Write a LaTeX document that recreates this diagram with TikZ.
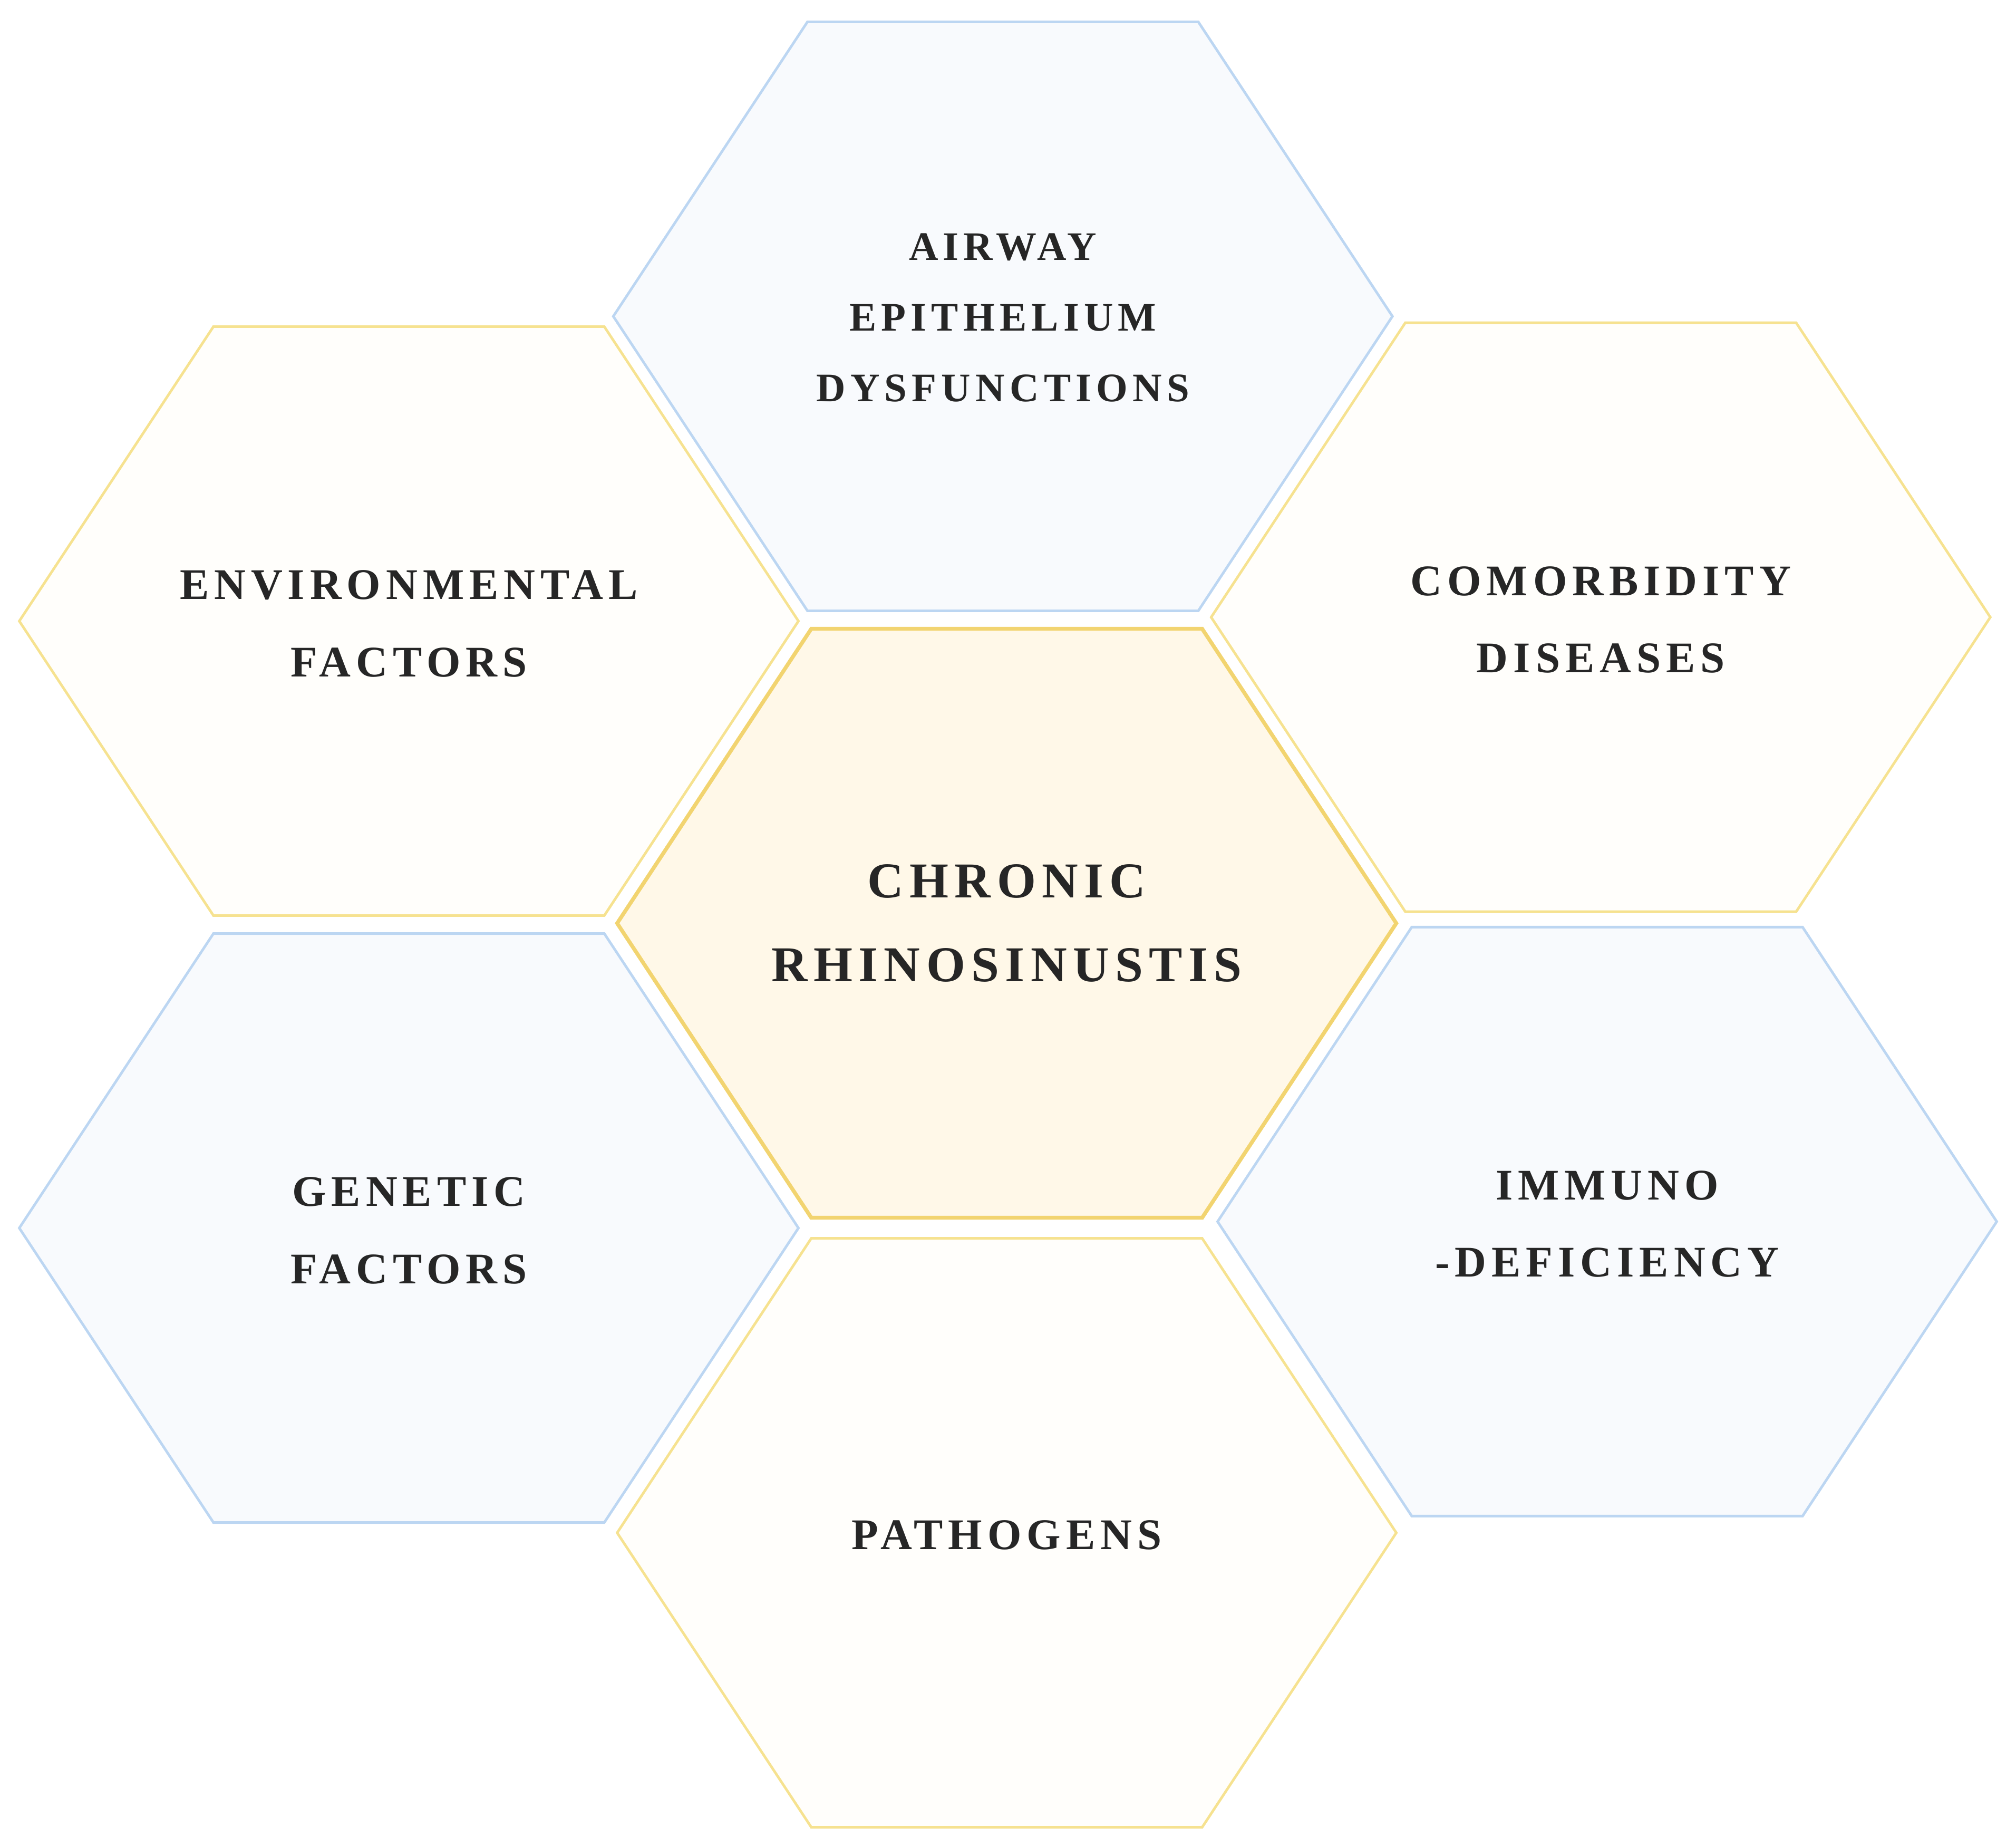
\documentclass[tikz,border=0pt]{standalone}
\usepackage{fontspec}
\setmainfont{Liberation Serif}[LetterSpace=12]
\definecolor{bline}{HTML}{BCD6F2}
\definecolor{bfill}{HTML}{F8FAFD}
\definecolor{yline}{HTML}{F6E290}
\definecolor{yfill}{HTML}{FFFEFB}
\definecolor{cline}{HTML}{F2D470}
\definecolor{cfill}{HTML}{FFF8E8}
\newcommand{\myhex}[3]{\draw[#3] (#1-303,#2) -- (#1-152,#2-229) -- (#1+152,#2-229) -- (#1+303,#2) -- (#1+152,#2+229) -- (#1-152,#2+229) -- cycle;}
\tikzset{bhex/.style={draw=bline,fill=bfill,line width=2pt},
yhex/.style={draw=yline,fill=yfill,line width=2pt},
chex/.style={draw=cline,fill=cfill,line width=3pt},
lbl/.style={align=center,font=\bfseries\fontsize{34}{60}\selectfont,text=black!85},
slbl/.style={align=center,font=\bfseries\fontsize{31.5}{55}\selectfont,text=black!85}}
\begin{document}
\begin{tikzpicture}[x=1pt,y=-1pt]
\useasboundingbox (0,0) rectangle (1568,1436);
\myhex{780}{246}{bhex}
\myhex{318}{483}{yhex}
\myhex{1245}{480}{yhex}
\myhex{318}{955}{bhex}
\myhex{1250}{950}{bhex}
\myhex{783}{1192}{yhex}
\myhex{783}{718}{chex}
\node[slbl] (air) at (780,247) {AIRWAY\\EPITHELIUM\\DYSFUNCTIONS};
\node[lbl] (env) at (318,485) {ENVIRONMENTAL\\FACTORS};
\node[lbl] (com) at (1245,482) {COMORBIDITY\\DISEASES};
\node[lbl,font=\bfseries\fontsize{39}{65}\selectfont] (cr) at (783,718) {CHRONIC\\RHINOSINUSTIS};
\node[lbl] (gen) at (318,957) {GENETIC\\FACTORS};
\node[lbl] (imm) at (1250,952) {IMMUNO\\-DEFICIENCY};
\node[lbl] (pat) at (783,1194) {PATHOGENS};
\end{tikzpicture}
\end{document}
